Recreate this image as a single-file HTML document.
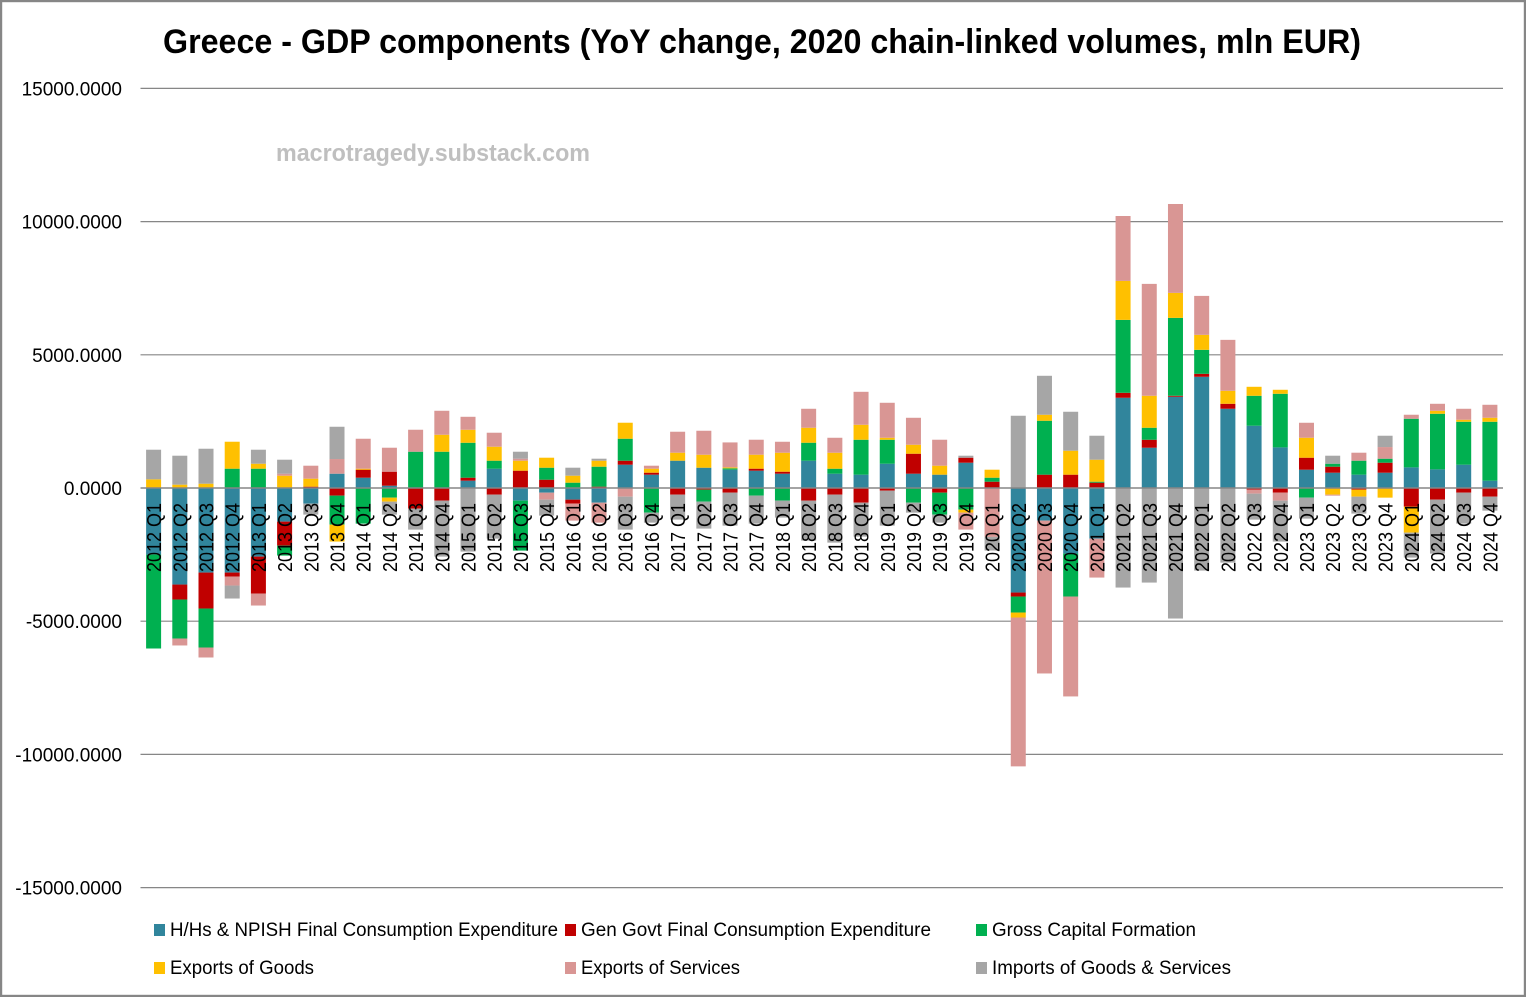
<!DOCTYPE html>
<html lang="en">
<head>
<meta charset="utf-8">
<title>Greece - GDP components</title>
<style>
html,body{margin:0;padding:0;background:#fff;width:1526px;height:997px;overflow:hidden}
svg{display:block}
text{font-family:"Liberation Sans",sans-serif;fill:#000}
</style>
</head>
<body>
<svg id="chart" width="1526" height="997" viewBox="0 0 1526 997" xmlns="http://www.w3.org/2000/svg">
  <rect x="1" y="1" width="1524" height="995" fill="#fff" stroke="#868686" stroke-width="2.4"/>
  <text x="163" y="53" font-size="34" font-weight="700" textLength="1198" lengthAdjust="spacingAndGlyphs">Greece - GDP components (YoY change, 2020 chain-linked volumes, mln EUR)</text>
  <g id="grid"></g>
  <g id="bars"></g>
  <line x1="140.5" x2="1503" y1="488" y2="488" stroke="#868686" stroke-width="1.5"/>
  <g id="ylabels"></g>
  <g id="xlabels"></g>
  <text x="276" y="161" font-size="24" font-weight="700" style="fill:#BFBFBF" textLength="314" lengthAdjust="spacingAndGlyphs">macrotragedy.substack.com</text>
  <g font-size="19">
    <g>
      <rect x="154" y="924" width="11" height="12" fill="#31859C"/>
      <text x="170" y="936" textLength="388" lengthAdjust="spacingAndGlyphs">H/Hs &amp; NPISH Final Consumption Expenditure</text>
    </g>
    <g>
      <rect x="565" y="924" width="11" height="12" fill="#C00000"/>
      <text x="581" y="936" textLength="350" lengthAdjust="spacingAndGlyphs">Gen Govt Final Consumption Expenditure</text>
    </g>
    <g>
      <rect x="976" y="924" width="11" height="12" fill="#00B050"/>
      <text x="992" y="936" textLength="204" lengthAdjust="spacingAndGlyphs">Gross Capital Formation</text>
    </g>
    <g>
      <rect x="154" y="962" width="11" height="12" fill="#FFC000"/>
      <text x="170" y="974" textLength="144" lengthAdjust="spacingAndGlyphs">Exports of Goods</text>
    </g>
    <g>
      <rect x="565" y="962" width="11" height="12" fill="#D99694"/>
      <text x="581" y="974" textLength="159" lengthAdjust="spacingAndGlyphs">Exports of Services</text>
    </g>
    <g>
      <rect x="976" y="962" width="11" height="12" fill="#A6A6A6"/>
      <text x="992" y="974" textLength="239" lengthAdjust="spacingAndGlyphs">Imports of Goods &amp; Services</text>
    </g>
  </g>
</svg>
<script>
const categories = [
"2012 Q1","2012 Q2","2012 Q3","2012 Q4","2013 Q1","2013 Q2","2013 Q3","2013 Q4",
"2014 Q1","2014 Q2","2014 Q3","2014 Q4","2015 Q1","2015 Q2","2015 Q3","2015 Q4",
"2016 Q1","2016 Q2","2016 Q3","2016 Q4","2017 Q1","2017 Q2","2017 Q3","2017 Q4",
"2018 Q1","2018 Q2","2018 Q3","2018 Q4","2019 Q1","2019 Q2","2019 Q3","2019 Q4",
"2020 Q1","2020 Q2","2020 Q3","2020 Q4","2021 Q1","2021 Q2","2021 Q3","2021 Q4",
"2022 Q1","2022 Q2","2022 Q3","2022 Q4","2023 Q1","2023 Q2","2023 Q3","2023 Q4",
"2024 Q1","2024 Q2","2024 Q3","2024 Q4"];
const households = [
-2500,-3625,-3175,-3175,-2575,-1262,-587,537,
387,87,0,0,275,725,-475,-175,
-437,-550,875,500,1025,762,687,650,
537,1025,537,500,912,537,500,950,
0,-3925,-1225,-2462,-1900,3387,1512,3425,
4175,2975,2337,1525,687,575,500,575,
775,700,875,275];
const government = [
0,-562,-1350,-150,-1387,-900,50,-287,
300,525,-775,-475,112,-250,650,312,
-150,50,150,75,-250,-62,-175,75,
75,-475,-250,-550,-100,750,-175,187,
237,-150,500,500,200,187,300,37,
112,187,-62,-175,450,225,-62,375,
-700,-437,-175,-325];
const capitalFormation = [
-3525,-1462,-1462,725,725,-375,0,-1087,
-1337,-362,1362,1362,1312,300,-1875,450,
200,750,825,-925,0,-450,50,-287,
-475,675,187,1312,900,-550,-825,-812,
150,-600,2025,-1612,37,2737,450,2925,
900,0,1125,2012,-362,112,525,150,
1825,2087,1612,2212];
const exportsGoods = [
325,125,162,1012,187,462,300,-637,
37,-150,0,637,487,525,375,375,
262,225,600,150,300,487,37,525,
712,562,600,562,75,337,337,-112,
300,-187,225,900,825,1462,1200,937,
562,487,337,150,750,-250,-262,-362,
-975,112,75,150];
const exportsServices = [
0,-262,-375,-337,-450,75,487,550,
1125,900,825,900,487,525,75,-262,
-637,-750,-325,112,787,900,937,562,
412,712,562,1237,1312,1012,975,-637,
-1837,-5587,-5737,-3750,-1462,2437,4200,3337,
1462,1912,-150,-300,562,-37,300,437,
150,262,412,487];
const imports = [
1112,1087,1312,-487,525,525,-412,1212,
0,-487,-787,-2100,-2387,-1650,262,-600,
300,75,-1237,-375,-937,-1012,-1237,-1050,
-637,-1500,-1800,-1275,-1312,-375,-300,75,
-512,2712,1462,1462,900,-3737,-3550,-4900,
-3100,-2800,-975,-1537,-787,300,-637,425,
-937,-2025,-1162,-525];
const yTickValues = [15000,10000,5000,0,-5000,-10000,-15000];
const yTickLabels = ["15000.0000","10000.0000","5000.0000","0.0000","-5000.0000","-10000.0000","-15000.0000"];

const NS = "http://www.w3.org/2000/svg";
const plotLeft = 140.5, plotRight = 1503, zeroY = 488, pxPerUnit = 399.6 / 15000, barWidth = 15;
function yScale(v){ return zeroY - v * pxPerUnit; }
function xCenter(i){ return plotLeft + (plotRight - plotLeft) / categories.length * (i + 0.5); }

const stackOrder = [
  {key:"households", values:households, color:"#31859C"},
  {key:"government", values:government, color:"#C00000"},
  {key:"capital-formation", values:capitalFormation, color:"#00B050"},
  {key:"exports-goods", values:exportsGoods, color:"#FFC000"},
  {key:"exports-services", values:exportsServices, color:"#D99694"},
  {key:"imports", values:imports, color:"#A6A6A6"}
];

const gridG = document.getElementById("grid");
const yG = document.getElementById("ylabels");
yTickValues.forEach(function(v, i){
  if (v !== 0) {
    const ln = document.createElementNS(NS, "line");
    
    
    ln.setAttribute("x1", plotLeft);
    ln.setAttribute("x2", plotRight);
    ln.setAttribute("y1", yScale(v));
    ln.setAttribute("y2", yScale(v));
    ln.setAttribute("stroke", "#868686");
    ln.setAttribute("stroke-width", "1.2");
    gridG.appendChild(ln);
  }
  const t = document.createElementNS(NS, "text");
  
  
  t.setAttribute("x", 122);
  t.setAttribute("y", yScale(v) + 7);
  t.setAttribute("text-anchor", "end");
  t.setAttribute("font-size", "19");
  t.textContent = yTickLabels[i];
  yG.appendChild(t);
});

const barsG = document.getElementById("bars");
const xG = document.getElementById("xlabels");
categories.forEach(function(cat, i){
  let pos = 0, neg = 0;
  const cx = xCenter(i);
  stackOrder.forEach(function(s){
    const v = s.values[i];
    if (!v) return;
    let top, bottom;
    if (v > 0) { top = yScale(pos + v); bottom = yScale(pos); pos += v; }
    else { top = yScale(neg); bottom = yScale(neg + v); neg += v; }
    const r = document.createElementNS(NS, "rect");
    
    
    r.setAttribute("data-series", s.key);
    r.setAttribute("x", cx - barWidth / 2);
    r.setAttribute("y", top);
    r.setAttribute("width", barWidth);
    r.setAttribute("height", bottom - top);
    r.setAttribute("fill", s.color);
    barsG.appendChild(r);
  });
  const t = document.createElementNS(NS, "text");
  
  
  t.setAttribute("transform", "translate(" + (cx + 7.5) + ",503) rotate(-90)");
  t.setAttribute("text-anchor", "end");
  t.setAttribute("font-size", "20");
  t.setAttribute("textLength", "69");
  t.setAttribute("lengthAdjust", "spacingAndGlyphs");
  t.textContent = cat;
  xG.appendChild(t);
});
</script>
</body>
</html>
